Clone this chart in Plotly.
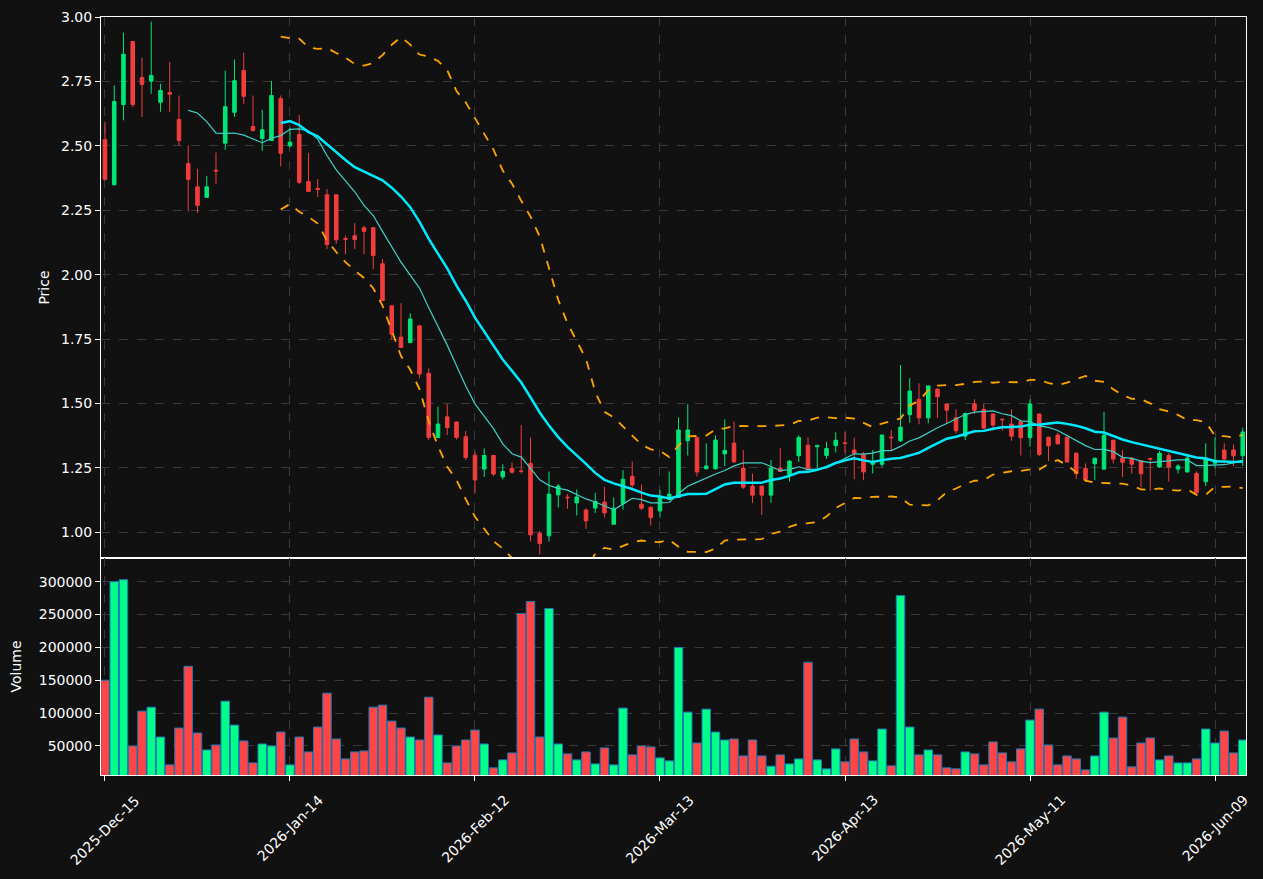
import pandas as pd
import plotly.graph_objects as go

# ---------------- data ----------------
holidays = ["2025-12-25", "2026-01-01", "2026-01-19", "2026-02-16", "2026-04-03", "2026-05-25"]
dates = pd.bdate_range("2025-12-15", periods=124, freq="C", holidays=holidays)
date_labels = [d.strftime("%Y-%b-%d") for d in dates]

opens = [2.524, 2.349, 2.660, 2.905, 2.765, 2.751, 2.669, 2.707, 2.602, 2.431,
         2.341, 2.300, 2.405, 2.510, 2.630, 2.792, 2.575, 2.528, 2.521, 2.683,
         2.500, 2.544, 2.361, 2.334, 2.310, 2.310, 2.140, 2.151, 2.182, 2.182,
         2.042, 1.879, 1.758, 1.736, 1.801, 1.617, 1.368, 1.448, 1.428, 1.371,
         1.299, 1.245, 1.298, 1.215, 1.248, 1.238, 1.267, 0.995, 0.986, 1.145,
         1.136, 1.114, 1.086, 1.094, 1.117, 1.031, 1.112, 1.217, 1.109, 1.097,
         1.083, 1.127, 1.135, 1.355, 1.368, 1.246, 1.246, 1.304, 1.346, 1.249,
         1.179, 1.179, 1.144, 1.249, 1.223, 1.297, 1.338, 1.332, 1.298, 1.336,
         1.347, 1.319, 1.303, 1.264, 1.264, 1.369, 1.355, 1.456, 1.516, 1.444,
         1.555, 1.498, 1.444, 1.373, 1.498, 1.477, 1.459, 1.439, 1.420, 1.429,
         1.367, 1.459, 1.369, 1.377, 1.369, 1.307, 1.248, 1.266, 1.245, 1.357,
         1.288, 1.288, 1.277, 1.286, 1.253, 1.298, 1.245, 1.234, 1.228, 1.196,
         1.268, 1.319, 1.319, 1.297]
highs = [2.593, 2.734, 2.939, 2.905, 2.842, 2.982, 2.741, 2.826, 2.695, 2.501,
         2.411, 2.383, 2.474, 2.792, 2.835, 2.861, 2.695, 2.640, 2.752, 2.695,
         2.570, 2.620, 2.472, 2.371, 2.332, 2.310, 2.151, 2.200, 2.190, 2.185,
         2.060, 1.879, 1.889, 1.850, 1.805, 1.636, 1.487, 1.497, 1.430, 1.393,
         1.312, 1.325, 1.300, 1.264, 1.271, 1.415, 1.368, 1.005, 1.236, 1.187,
         1.148, 1.166, 1.093, 1.153, 1.176, 1.135, 1.241, 1.275, 1.185, 1.100,
         1.166, 1.236, 1.446, 1.497, 1.370, 1.345, 1.376, 1.438, 1.430, 1.319,
         1.228, 1.180, 1.280, 1.327, 1.280, 1.377, 1.368, 1.339, 1.351, 1.388,
         1.390, 1.367, 1.311, 1.319, 1.380, 1.397, 1.649, 1.598, 1.578, 1.570,
         1.560, 1.500, 1.477, 1.465, 1.516, 1.498, 1.460, 1.440, 1.477, 1.430,
         1.516, 1.461, 1.370, 1.386, 1.370, 1.310, 1.267, 1.290, 1.467, 1.360,
         1.319, 1.290, 1.280, 1.290, 1.316, 1.308, 1.264, 1.295, 1.236, 1.345,
         1.368, 1.345, 1.341, 1.406]
lows = [2.365, 2.345, 2.599, 2.650, 2.612, 2.702, 2.632, 2.632, 2.501, 2.245,
        2.239, 2.298, 2.352, 2.484, 2.612, 2.663, 2.556, 2.480, 2.521, 2.420,
        2.493, 2.352, 2.322, 2.301, 2.099, 2.119, 2.080, 2.099, 2.080, 2.021,
        1.898, 1.749, 1.715, 1.735, 1.598, 1.358, 1.366, 1.377, 1.360, 1.280,
        1.153, 1.215, 1.218, 1.205, 1.227, 1.228, 0.964, 0.914, 0.964, 1.096,
        1.091, 1.065, 1.013, 1.075, 1.057, 1.030, 1.088, 1.174, 1.086, 1.026,
        1.057, 1.125, 1.133, 1.298, 1.217, 1.245, 1.244, 1.257, 1.270, 1.168,
        1.114, 1.067, 1.114, 1.234, 1.197, 1.273, 1.240, 1.248, 1.285, 1.310,
        1.307, 1.206, 1.202, 1.228, 1.254, 1.319, 1.350, 1.425, 1.419, 1.423,
        1.444, 1.420, 1.384, 1.358, 1.459, 1.400, 1.394, 1.394, 1.355, 1.298,
        1.332, 1.295, 1.276, 1.340, 1.270, 1.206, 1.197, 1.202, 1.243, 1.267,
        1.215, 1.228, 1.174, 1.161, 1.250, 1.197, 1.228, 1.232, 1.151, 1.179,
        1.248, 1.267, 1.257, 1.257]
closes = [2.370, 2.672, 2.855, 2.660, 2.738, 2.773, 2.715, 2.700, 2.521, 2.370,
          2.269, 2.341, 2.402, 2.652, 2.753, 2.692, 2.559, 2.562, 2.695, 2.471,
          2.514, 2.358, 2.323, 2.331, 2.117, 2.135, 2.137, 2.136, 2.168, 2.074,
          1.899, 1.769, 1.717, 1.828, 1.614, 1.368, 1.420, 1.406, 1.368, 1.290,
          1.203, 1.298, 1.226, 1.236, 1.233, 1.236, 0.990, 0.956, 1.148, 1.179,
          1.134, 1.137, 1.044, 1.119, 1.075, 1.093, 1.206, 1.183, 1.093, 1.056,
          1.137, 1.148, 1.397, 1.397, 1.234, 1.257, 1.358, 1.318, 1.273, 1.175,
          1.144, 1.144, 1.249, 1.236, 1.276, 1.368, 1.244, 1.337, 1.325, 1.357,
          1.345, 1.307, 1.234, 1.275, 1.377, 1.367, 1.408, 1.548, 1.444, 1.568,
          1.526, 1.474, 1.394, 1.461, 1.474, 1.404, 1.416, 1.437, 1.373, 1.367,
          1.498, 1.302, 1.336, 1.343, 1.273, 1.227, 1.205, 1.287, 1.377, 1.284,
          1.272, 1.264, 1.227, 1.284, 1.307, 1.253, 1.257, 1.288, 1.153, 1.288,
          1.280, 1.284, 1.297, 1.389]
volumes = [150000, 300000, 303000, 50000, 103000, 109000, 63600, 21200, 77300, 171200,
           69700, 43900, 51500, 118200, 81800, 57600, 24200, 53000, 50000, 71200,
           21200, 63600, 40900, 78800, 130300, 60600, 30300, 40900, 42400, 109000,
           112100, 87900, 77300, 63600, 59100, 124200, 66700, 24200, 50000, 59100,
           74200, 53000, 16700, 28800, 39400, 251500, 269700, 63600, 259100, 53000,
           37900, 28800, 40900, 22700, 47000, 21200, 107600, 36400, 50000, 48500,
           31800, 27300, 200000, 101500, 54500, 106100, 71200, 59100, 60600, 34800,
           59100, 34800, 19200, 36400, 22700, 30300, 177300, 28800, 15200, 45500,
           25800, 60600, 40900, 27300, 75800, 19700, 278800, 78800, 36400, 43900,
           36400, 16700, 15200, 40900, 37900, 21200, 56100, 39400, 25800, 45500,
           89400, 106100, 51500, 21200, 34800, 30300, 13600, 34800, 101500, 62100,
           93900, 18200, 54500, 62100, 28800, 34800, 24200, 24200, 30300, 75800,
           54500, 72700, 39400, 59100]

price_ticks = [1.00, 1.25, 1.50, 1.75, 2.00, 2.25, 2.50, 2.75, 3.00]
volume_ticks = [50000, 100000, 150000, 200000, 250000, 300000]
x_tick_labels = date_labels[::20]

# ---------------- indicators (from the closes) ----------------
close_s = pd.Series(closes)
ma10 = close_s.rolling(10).mean()
ma20 = close_s.rolling(20).mean()
sd20 = close_s.rolling(20).std()
bb_up = ma20 + 2 * sd20
bb_lo = ma20 - 2 * sd20

def clean(s):
    return [None if pd.isna(v) else float(v) for v in s]

UP_C = "#00e676"
DN_C = "#f23d3d"
VUP_C = "#00ff88"
VDN_C = "#ff4545"
vol_colors = [VUP_C if c >= o else VDN_C for o, c in zip(opens, closes)]

fig = go.Figure()
fig.add_trace(go.Candlestick(
    x=date_labels, open=opens, high=highs, low=lows, close=closes,
    increasing=dict(line=dict(color=UP_C, width=1), fillcolor=UP_C),
    decreasing=dict(line=dict(color=DN_C, width=1), fillcolor=DN_C),
    whiskerwidth=0, xaxis="x", yaxis="y", hoverinfo="skip"))
fig.add_trace(go.Scatter(x=date_labels, y=clean(ma10), mode="lines",
                         line=dict(color="#40d0c8", width=1.2), xaxis="x", yaxis="y"))
fig.add_trace(go.Scatter(x=date_labels, y=clean(ma20), mode="lines",
                         line=dict(color="#00eaff", width=2.5), xaxis="x", yaxis="y"))
fig.add_trace(go.Scatter(x=date_labels, y=clean(bb_up), mode="lines",
                         line=dict(color="#ffa500", width=1.8, dash="dash"), xaxis="x", yaxis="y"))
fig.add_trace(go.Scatter(x=date_labels, y=clean(bb_lo), mode="lines",
                         line=dict(color="#ffa500", width=1.8, dash="dash"), xaxis="x", yaxis="y"))
fig.add_trace(go.Bar(x=date_labels, y=volumes,
                     marker=dict(color=vol_colors, line=dict(color="#1f77b4", width=1)),
                     xaxis="x2", yaxis="y2"))

BG = "#111111"
GRID = "#3a3a3a"
FONT = dict(family="DejaVu Sans", size=14, color="#ffffff")
split = 217 / 758

common_x = dict(type="category", range=[-0.43, 123.35], tickmode="array",
                tickvals=x_tick_labels, showgrid=True, gridcolor=GRID, griddash="dash",
                gridwidth=1, showline=True, linecolor="#ffffff", linewidth=1, mirror=True,
                zeroline=False, automargin=False)

fig.update_layout(
    width=1263, height=879,
    paper_bgcolor=BG, plot_bgcolor=BG,
    margin=dict(l=101, r=17, t=17, b=104),
    font=FONT, showlegend=False, hovermode=False,
    bargap=0.08, boxgap=0.45,
    xaxis=dict(**common_x, anchor="y", domain=[0, 1], showticklabels=False,
               ticks="", matches="x2", rangeslider=dict(visible=False)),
    xaxis2=dict(**common_x, anchor="y2", domain=[0, 1], showticklabels=False,
                ticks="outside", ticklen=5, tickcolor="#ffffff"),
    yaxis=dict(domain=[split, 1], anchor="x", range=[0.9, 3.0], tickvals=price_ticks,
               tickformat=".2f", ticks="outside", ticklen=5, tickcolor="#ffffff",
               showgrid=True, gridcolor=GRID, griddash="dash", gridwidth=1,
               showline=True, linecolor="#ffffff", linewidth=1, mirror=True, zeroline=False,
               automargin=False,
               title=dict(text="Price", font=FONT, standoff=8), tickfont=FONT),
    yaxis2=dict(domain=[0, split], anchor="x2", range=[5800, 336000], tickvals=volume_ticks,
                tickformat="d", ticks="outside", ticklen=5, tickcolor="#ffffff",
                showgrid=True, gridcolor=GRID, griddash="dash", gridwidth=1,
                showline=True, linecolor="#ffffff", linewidth=1, mirror=True, zeroline=False,
                automargin=False,
                title=dict(text="Volume", font=FONT, standoff=13), tickfont=FONT),
)

# date tick labels, rotated and centred on their ticks
for lab in x_tick_labels:
    fig.add_annotation(x=lab, xref="x2", y=0, yref="paper", text=lab, showarrow=False,
                       textangle=-45, xanchor="center", yanchor="top", yshift=-14,
                       font=FONT)

fig.write_html("out.html")
